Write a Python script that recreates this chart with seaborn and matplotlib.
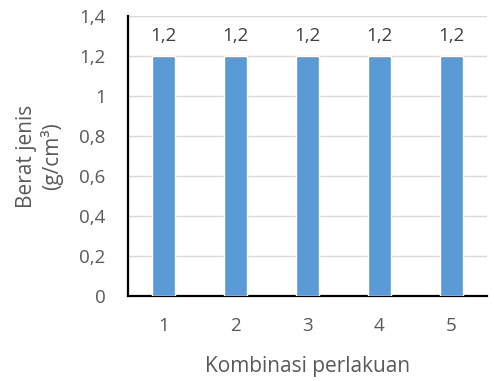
import matplotlib
matplotlib.use("Agg")
import matplotlib.pyplot as plt
import seaborn as sns
import pandas as pd

categories = ["1", "2", "3", "4", "5"]
values = [1.2, 1.2, 1.2, 1.2, 1.2]
value_labels = ["1,2", "1,2", "1,2", "1,2", "1,2"]
y_ticks = [0, 0.2, 0.4, 0.6, 0.8, 1.0, 1.2, 1.4]
y_tick_labels = ["0", "0,2", "0,4", "0,6", "0,8", "1", "1,2", "1,4"]

sns.set_theme(style="white")
plt.rcParams["font.family"] = ["Open Sans", "DejaVu Sans"]

text_color = "#595959"
df = pd.DataFrame({"kombinasi": categories, "berat": values})

fig = plt.figure(figsize=(4.94, 3.81), dpi=100)
ax = fig.add_axes([0.259, 0.223, 0.727, 0.735])

sns.barplot(data=df, x="kombinasi", y="berat", color="#5B9BD5",
            width=0.32, saturation=1, ax=ax, zorder=3)

ax.set_ylim(0, 1.4)
ax.set_yticks(y_ticks)
ax.set_yticklabels(y_tick_labels)
ax.yaxis.grid(True, color="#D9D9D9", linewidth=1, zorder=0)
ax.set_axisbelow(True)

for spine in ["top", "right"]:
    ax.spines[spine].set_visible(False)
for spine in ["left", "bottom"]:
    ax.spines[spine].set_color("black")
    ax.spines[spine].set_linewidth(1.6)

ax.tick_params(axis="both", length=0, labelsize=13.5, labelcolor=text_color)
ax.tick_params(axis="x", pad=15)
ax.tick_params(axis="y", pad=16)

for patch, lab in zip(ax.patches, value_labels):
    x = patch.get_x() + patch.get_width() / 2
    ax.annotate(lab, (x, patch.get_height()), xytext=(0, 8),
                textcoords="offset points", ha="center", va="bottom",
                fontsize=13.5, color="#404040")

ax.set_xlabel("Kombinasi perlakuan", fontsize=15, color=text_color, labelpad=15)
ax.set_ylabel("Berat jenis\n(g/cm³)", fontsize=15, color=text_color, labelpad=12,
              linespacing=1.15)

fig.savefig("out.png", dpi=100)
